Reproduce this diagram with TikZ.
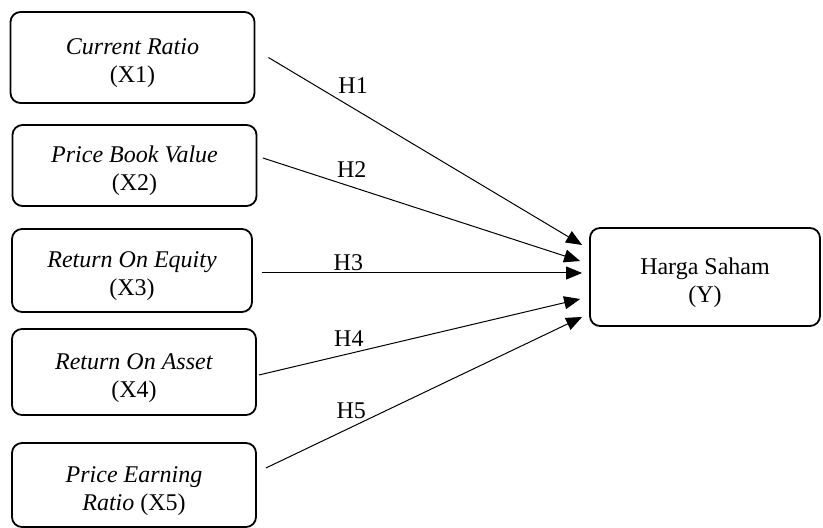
\documentclass[tikz,border=0pt]{standalone}
\usepackage{fontspec}
\setmainfont{Liberation Serif}
\usepackage{tikz}
\usetikzlibrary{arrows.meta}
\newcommand{\toppad}{\rule{0pt}{14pt}}

\begin{document}
\begin{tikzpicture}
  [x=0.5pt,y=-0.5pt,-{Triangle[length=8pt,width=6.5pt]},line width=0.5pt,
   every node/.style={align=center,font=\fontsize{12}{14}\selectfont}]
  \tikzstyle{var}=[draw,rounded corners=5pt,line width=0.9pt,minimum width=122pt,inner sep=2pt]
  \tikzstyle{hyp}=[inner sep=0pt]
  \useasboundingbox (0,0) rectangle (823,528);
  \begin{scope}
    \node[var,minimum height=45.5pt] (x1) at (132.5,57.5) {\toppad\textit{Current Ratio} \\ (X1)};
    \node[var,minimum height=40.5pt] (x2) at (134.5,165.5) {\toppad\textit{Price Book Value} \\ (X2)};
    \node[var,minimum height=41.5pt,minimum width=120pt] (x3) at (132,270.5) {\toppad\textit{Return On Equity} \\ (X3)};
    \node[var,minimum height=43pt] (x4) at (134,372) {\toppad\textit{Return On Asset} \\ (X4)};
    \node[var,minimum height=42pt] (x5) at (134,485) {\toppad\textit{Price Earning} \\ \textit{Ratio} (X5)};
  \end{scope}
  \begin{scope}
    \node[var,minimum height=49pt,minimum width=115pt] (y) at (705,277) {\toppad Harga Saham \\ (Y)};
  \end{scope}

  \draw ([shift={(13,0)}]x1.east) -- node[hyp,pos=0.27,above=7pt] {H1} ([shift={(-7,-32)}]y.west);
  \draw ([shift={(5.5,-7.5)}]x2.east) -- node[hyp,pos=0.28,above=4.5pt] {H2} ([shift={(-9,-16)}]y.west);
  \draw ([shift={(9,2.5)}]x3.east) -- node[hyp,pos=0.27,above=1pt] {H3} ([shift={(-7,-4)}]y.west);
  \draw ([shift={(2,3)}]x4.east) -- node[hyp,pos=0.28,above=3.5pt] {H4} ([shift={(-9,22)}]y.west);
  \draw ([shift={(9,-17)}]x5.east) -- node[hyp,pos=0.27,above=4pt] {H5} ([shift={(-7,40)}]y.west);

\end{tikzpicture}
\end{document}
